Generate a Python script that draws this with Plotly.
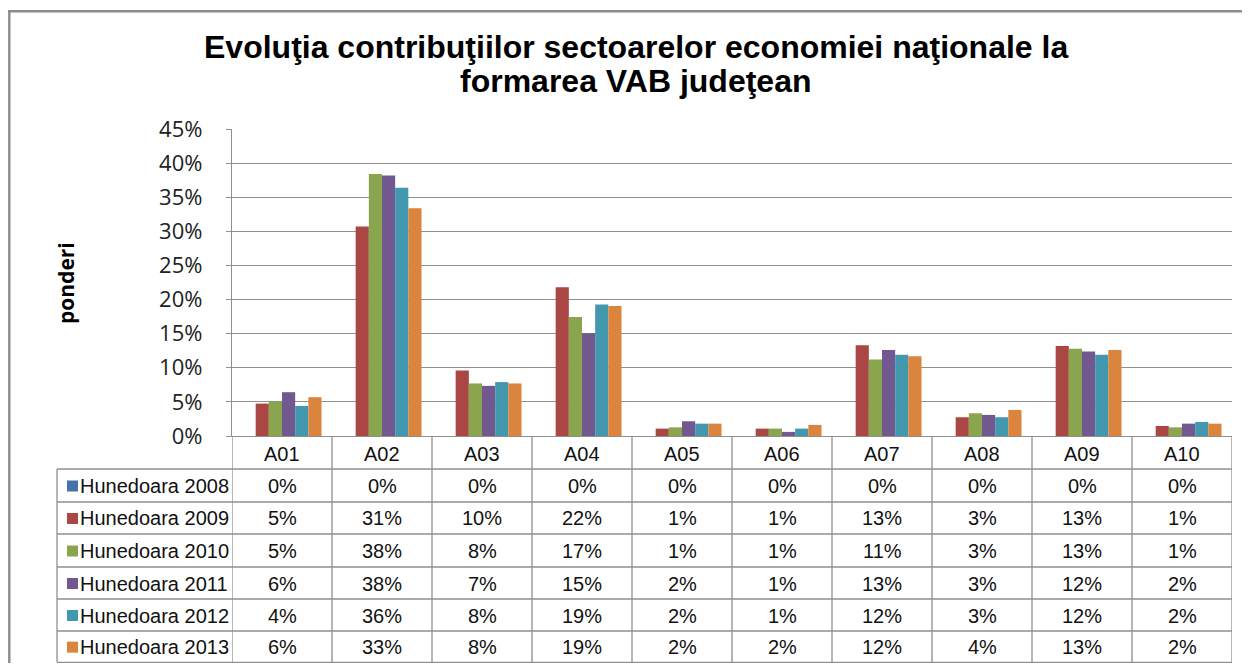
import plotly.graph_objects as go

# ---------------- data ----------------
categories = ["A01", "A02", "A03", "A04", "A05", "A06", "A07", "A08", "A09", "A10"]
series_names = ["Hunedoara 2008", "Hunedoara 2009", "Hunedoara 2010",
                "Hunedoara 2011", "Hunedoara 2012", "Hunedoara 2013"]
h2008 = [0, 0, 0, 0, 0, 0, 0, 0, 0, 0]
h2009 = [0.0475, 0.307, 0.096, 0.218, 0.0108, 0.0108, 0.133, 0.0275, 0.132, 0.0147]
h2010 = [0.0505, 0.384, 0.077, 0.1745, 0.0127, 0.0108, 0.112, 0.0333, 0.128, 0.0127]
h2011 = [0.0642, 0.382, 0.0735, 0.1505, 0.0216, 0.006, 0.126, 0.0309, 0.124, 0.0181]
h2012 = [0.0441, 0.364, 0.079, 0.1926, 0.0181, 0.0108, 0.119, 0.0275, 0.119, 0.0206]
h2013 = [0.0569, 0.334, 0.077, 0.1907, 0.0181, 0.0162, 0.117, 0.0382, 0.126, 0.0181]
series_values = [h2008, h2009, h2010, h2011, h2012, h2013]
colors = ["#4572A7", "#AA4643", "#89A54E", "#71588F", "#4198AF", "#DB843D"]
y_ticks = [0, 0.05, 0.10, 0.15, 0.20, 0.25, 0.30, 0.35, 0.40, 0.45]
title_lines = ["Evoluţia contribuţiilor sectoarelor economiei naţionale la",
               "formarea VAB judeţean"]
y_title = "ponderi"

# ---------------- geometry (pixels, in screenshot coordinates) ----------------
W, H = 1234, 655   # keeps the page (with its 8px body margin) inside the window
OFF = 8  # page body margin offset
PX0, PX1, PY0, PY1 = 232, 1232, 129, 436  # plot area in screenshot


def px(x):
    return (x - PX0) / (PX1 - PX0)


def py(y):
    return (PY1 - y) / (PY1 - PY0)


GRID = "#8f8f8f"
TFONT = "Liberation Sans, Arial, sans-serif"

fig = go.Figure()
for name, vals, col in zip(series_names, series_values, colors):
    fig.add_trace(go.Bar(x=categories, y=vals, name=name,
                         marker=dict(color=col, line=dict(width=0))))

shapes = []
annotations = []

# outer chart border (only top and left edges are inside the picture)
shapes.append(dict(type="line", xref="paper", yref="paper",
                   x0=px(8.2), x1=px(1242), y0=py(11.3), y1=py(11.3),
                   line=dict(color="#8c8c8c", width=2.4), layer="below"))
shapes.append(dict(type="line", xref="paper", yref="paper",
                   x0=px(9.3), x1=px(9.3), y0=py(10.1), y1=py(663),
                   line=dict(color="#8c8c8c", width=2.4), layer="below"))

# table rows
row_lines = [469, 502, 534, 567, 599, 631, 662.3]
for yl in row_lines:
    shapes.append(dict(type="line", xref="paper", yref="paper",
                       x0=px(57), x1=px(PX1), y0=py(yl), y1=py(yl),
                       line=dict(color=GRID, width=1.3)))
# vertical lines of table
for k in range(len(categories) + 1):
    shapes.append(dict(type="line", xref="x", yref="paper",
                       x0=k - 0.5, x1=k - 0.5, y0=py(PY1), y1=py(row_lines[-1]),
                       line=dict(color=GRID, width=1.3)))
shapes.append(dict(type="line", xref="paper", yref="paper",
                   x0=px(57), x1=px(57), y0=py(469), y1=py(row_lines[-1]),
                   line=dict(color=GRID, width=1.3)))

# header labels (categories)
for i, c in enumerate(categories):
    annotations.append(dict(x=i, y=py(454), xref="x", yref="paper", text=c,
                            showarrow=False, font=dict(family=TFONT, size=20, color="#111"),
                            xanchor="center", yanchor="middle"))

# data rows
for r, (name, vals, col) in enumerate(zip(series_names, series_values, colors)):
    yc = (row_lines[r] + row_lines[r + 1]) / 2 + 0.5
    # legend key
    shapes.append(dict(type="rect", xref="paper", yref="paper",
                       x0=px(67), x1=px(78), y0=py(yc - 5.5), y1=py(yc + 5.5),
                       fillcolor=col, line=dict(width=0)))
    annotations.append(dict(x=px(78), y=py(yc), xref="paper", yref="paper", text=name,
                            showarrow=False, font=dict(family=TFONT, size=20, color="#111"),
                            xanchor="left", yanchor="middle"))
    for i, v in enumerate(vals):
        annotations.append(dict(x=i, y=py(yc), xref="x", yref="paper",
                                text=f"{v * 100:.0f}%", showarrow=False,
                                font=dict(family=TFONT, size=20, color="#111"),
                                xanchor="center", yanchor="middle"))

# title
for line, yc in zip(title_lines, [47, 81]):
    annotations.append(dict(x=px(636), y=py(yc), xref="paper", yref="paper", text=f"<b>{line}</b>",
                            showarrow=False, font=dict(family=TFONT, size=32, color="#000"),
                            xanchor="center", yanchor="middle"))

# y axis title
annotations.append(dict(x=px(66), y=py(283), xref="paper", yref="paper", text=f"<b>{y_title}</b>",
                        showarrow=False, textangle=-90,
                        font=dict(family="Open Sans, sans-serif", size=21, color="#000"),
                        xanchor="center", yanchor="middle"))

fig.update_layout(
    width=W, height=H,
    margin=dict(l=PX0 - OFF, r=W - (PX1 - OFF), t=PY0 - OFF, b=H - (PY1 - OFF), pad=0),
    paper_bgcolor="white", plot_bgcolor="white",
    barmode="group", bargap=0.21, bargroupgap=0,
    showlegend=False,
    shapes=shapes, annotations=annotations,
    xaxis=dict(type="category", range=[-0.5, len(categories) - 0.5],
               showticklabels=False, showgrid=False, zeroline=False,
               showline=True, linecolor=GRID, linewidth=1.3, ticks="", fixedrange=True),
    yaxis=dict(range=[0, 0.45], tickvals=y_ticks, tickformat=".0%",
               showgrid=True, gridcolor=GRID, gridwidth=1.3,
               showline=True, linecolor=GRID, linewidth=1.3, mirror=False,
               ticks="outside", ticklen=5, tickcolor=GRID, zeroline=False,
               tickfont=dict(family="Open Sans, sans-serif", size=22, color="#222"),
               ticklabelstandoff=19),
)

fig.write_html("out.html")
